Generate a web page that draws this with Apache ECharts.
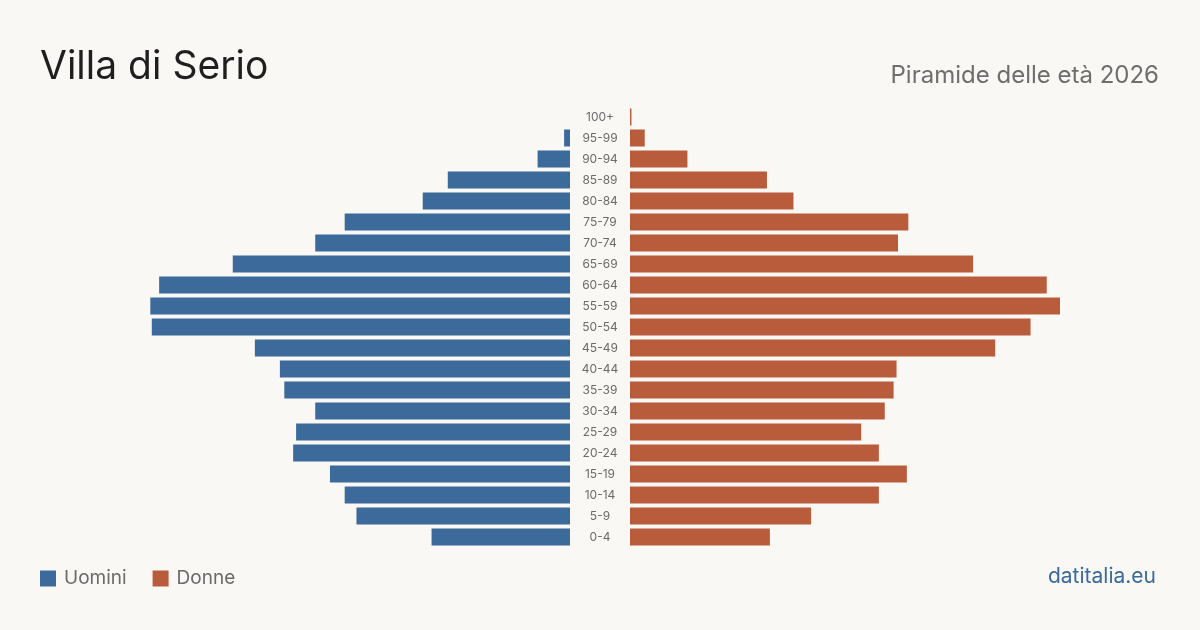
<!DOCTYPE html>
<html>
<head>
<meta charset="utf-8">
<script src="https://cdn.jsdelivr.net/npm/echarts@6/dist/echarts.min.js"></script>
<style>
  html, body { margin: 0; padding: 0; background: #f9f8f4; }
  #chart { width: 1200px; height: 630px; }
</style>
</head>
<body>
<div id="chart"></div>
<script>
const COLORS = {
  men: "#3b6a9b",
  women: "#b95c3c",
  bg: "#f9f8f4",
};

// bottom to top
const ageGroups = [
  "0-4", "5-9", "10-14", "15-19", "20-24", "25-29", "30-34", "35-39",
  "40-44", "45-49", "50-54", "55-59", "60-64", "65-69", "70-74", "75-79",
  "80-84", "85-89", "90-94", "95-99", "100+",
];
const men = [94, 145, 153, 163, 188, 186, 173, 194, 197, 214, 284, 285, 279, 229, 173, 153, 100, 83, 22, 4, 0];
const women = [95, 123, 169, 188, 169, 157, 173, 179, 181, 248, 272, 292, 283, 233, 182, 189, 111, 93, 39, 10, 1];

const maxValue = Math.max(...men, ...women);
const font = "Inter, 'Noto Sans', sans-serif";

const chart = echarts.init(document.getElementById("chart"), null, { renderer: "canvas" });

const gridTop = 106.5;
const gridBottom = 82.5;

const option = {
  backgroundColor: COLORS.bg,
  animation: false,
  textStyle: { fontFamily: font },
  legend: {
    left: 35,
    top: 564,
    itemWidth: 16,
    itemHeight: 16,
    itemGap: 26,
    icon: "rect",
    textStyle: { fontSize: 19, color: "#6b6b6b", fontFamily: font, padding: [0, 0, 0, 3] },
    data: ["Uomini", "Donne"],
  },
  graphic: [
    {
      type: "text",
      left: 40,
      top: 48,
      style: { text: "Villa di Serio", fontSize: 39, fill: "#1f1f1f", fontFamily: font },
    },
    {
      type: "text",
      right: 41,
      top: 64,
      style: { text: "Piramide delle età 2026", fontSize: 24, fill: "#6e6e6e", fontFamily: font },
    },
    {
      type: "text",
      right: 44,
      top: 566,
      style: { text: "datitalia.eu", fontSize: 21, fill: "#3b6a9b", fontFamily: font },
    },
  ],
  grid: [
    { left: 140, right: 630, top: gridTop, bottom: gridBottom },
    { left: 630, right: 140, top: gridTop, bottom: gridBottom },
  ],
  xAxis: [
    {
      gridIndex: 0, type: "value", inverse: true, min: 0, max: maxValue,
      show: false,
    },
    {
      gridIndex: 1, type: "value", min: 0, max: maxValue,
      show: false,
    },
  ],
  yAxis: [
    {
      gridIndex: 0, type: "category", data: ageGroups, position: "right",
      axisLine: { show: false }, axisTick: { show: false }, axisLabel: { show: false },
    },
    {
      gridIndex: 1, type: "category", data: ageGroups, position: "left",
      axisLine: { show: false }, axisTick: { show: false },
      axisLabel: { align: "center", margin: 30, fontSize: 12, color: "#6b6b6b", fontFamily: font },
    },
  ],
  series: [
    {
      name: "Uomini", type: "bar", xAxisIndex: 0, yAxisIndex: 0,
      data: men, barWidth: 17, itemStyle: { color: COLORS.men },
    },
    {
      name: "Donne", type: "bar", xAxisIndex: 1, yAxisIndex: 1,
      data: women, barWidth: 17, itemStyle: { color: COLORS.women },
    },
  ],
};

chart.setOption(option);
</script>
</body>
</html>
